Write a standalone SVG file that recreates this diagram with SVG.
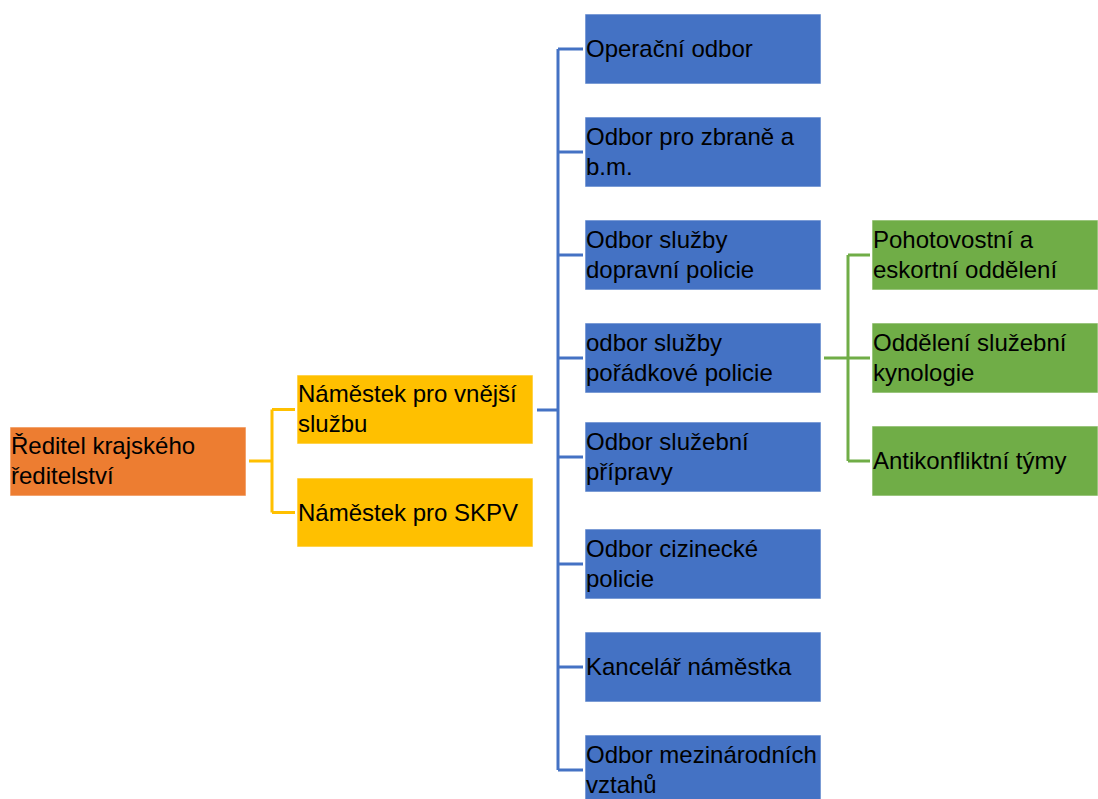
<svg xmlns="http://www.w3.org/2000/svg" width="1098" height="799" viewBox="0 0 1098 799">
<style>
.box{stroke:#ffffff;stroke-width:1;stroke-opacity:0.6}
.o{fill:#ED7D31}.y{fill:#FFC000}.b{fill:#4472C4}.g{fill:#70AD47}
text{font-family:"Liberation Sans",Arial,sans-serif;font-size:24px;fill:#000}
.cy{stroke:#FFC000;stroke-width:3;fill:none}
.cb{stroke:#4472C4;stroke-width:3;fill:none}
.cg{stroke:#70AD47;stroke-width:3;fill:none}
</style>
<rect width="1098" height="799" fill="#ffffff"/>
<g id="connectors">
<path class="cy" d="M249 461H272M272 409.5V512.5M272 409.5H295M272 512.5H295"/>
<path class="cb" d="M537 410H558M558 49V770M558 49H583M558 152H583M558 255H583M558 358H583M558 457H583M558 564H583M558 667H583M558 770H583"/>
<path class="cg" d="M824 358H848M848 255V461M848 255H870M848 358H870M848 461H870"/>
</g>
<g id="n-reditel"><rect class="box o" x="10" y="427" width="236" height="69"/><text x="11" y="454">Ředitel krajského</text><text x="11" y="484">ředitelství</text></g>
<g id="n-vnejsi"><rect class="box y" x="297" y="375" width="236" height="69"/><text x="298" y="402">Náměstek pro vnější</text><text x="298" y="432">službu</text></g>
<g id="n-skpv"><rect class="box y" x="297" y="478" width="236" height="69"/><text x="298" y="521">Náměstek pro SKPV</text></g>
<g id="n-operacni"><rect class="box b" x="585" y="14" width="236" height="70"/><text x="586" y="57">Operační odbor</text></g>
<g id="n-zbrane"><rect class="box b" x="585" y="117" width="236" height="70"/><text x="586" y="145">Odbor pro zbraně a</text><text x="586" y="175">b.m.</text></g>
<g id="n-dopravni"><rect class="box b" x="585" y="220" width="236" height="70"/><text x="586" y="248">Odbor služby</text><text x="586" y="278">dopravní policie</text></g>
<g id="n-poradkove"><rect class="box b" x="585" y="323" width="236" height="70"/><text x="586" y="351">odbor služby</text><text x="586" y="381">pořádkové policie</text></g>
<g id="n-priprava"><rect class="box b" x="585" y="422" width="236" height="70"/><text x="586" y="450">Odbor služební</text><text x="586" y="480">přípravy</text></g>
<g id="n-cizinecke"><rect class="box b" x="585" y="529" width="236" height="70"/><text x="586" y="557">Odbor cizinecké</text><text x="586" y="587">policie</text></g>
<g id="n-kancelar"><rect class="box b" x="585" y="632" width="236" height="70"/><text x="586" y="675">Kancelář náměstka</text></g>
<g id="n-mezinarodni"><rect class="box b" x="585" y="735" width="236" height="70"/><text x="586" y="763">Odbor mezinárodních</text><text x="586" y="793">vztahů</text></g>
<g id="n-pohotovostni"><rect class="box g" x="872" y="220" width="226" height="70"/><text x="873" y="248">Pohotovostní a</text><text x="873" y="278">eskortní oddělení</text></g>
<g id="n-kynologie"><rect class="box g" x="872" y="323" width="226" height="70"/><text x="873" y="351">Oddělení služební</text><text x="873" y="381">kynologie</text></g>
<g id="n-antikonflikt"><rect class="box g" x="872" y="426" width="226" height="70"/><text x="873" y="469">Antikonfliktní týmy</text></g>
</svg>
